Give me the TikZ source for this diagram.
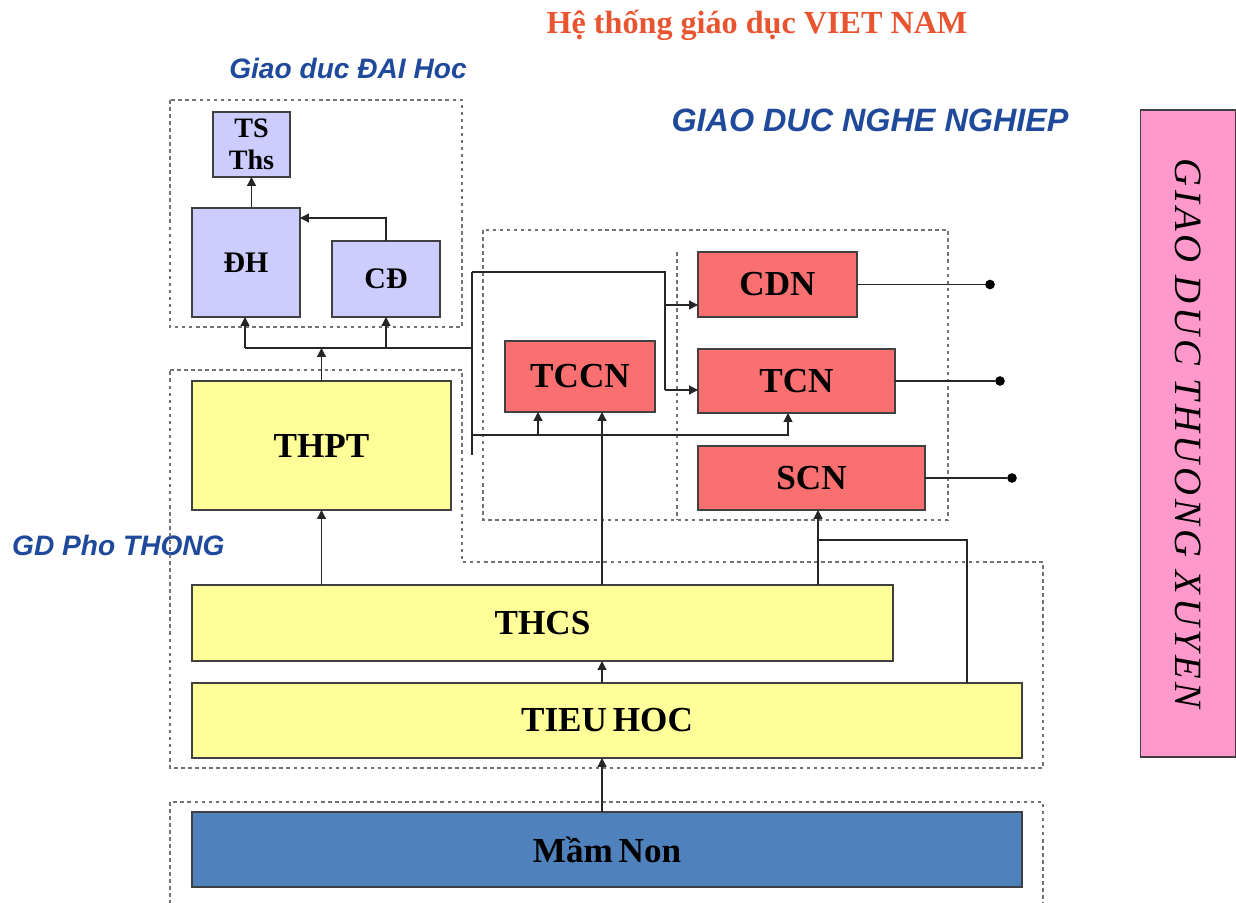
\documentclass[tikz,border=0pt]{standalone}
\usepackage{fontspec}
\setmainfont{Liberation Serif}
\setsansfont{Liberation Sans}
\newfontfamily\wideserif[LetterSpace=10]{Liberation Serif}
\usepackage{tikz}
\usetikzlibrary{arrows.meta}

\definecolor{lavender}{RGB}{204,204,255}
\definecolor{paleyellow}{RGB}{255,255,153}
\definecolor{salmon}{RGB}{250,112,112}
\definecolor{nonblue}{RGB}{79,129,189}
\definecolor{pinkbar}{RGB}{255,153,204}
\definecolor{titlered}{RGB}{232,84,48}
\definecolor{labelblue}{RGB}{31,73,155}

\begin{document}
\begin{tikzpicture}[x=0.02cm,y=-0.02cm,
		box/.style={draw=black!75,line width=0.9pt,inner sep=0pt,outer sep=0pt,
			font=\fontsize{20}{24}\selectfont\bfseries},
		grp/.style={draw=black!55,line width=0.9pt,dash pattern=on 2pt off 2pt},
		arr/.style={draw=black!85,line width=0.7pt,-{Triangle[length=5pt,width=5pt]}},
		wire/.style={draw=black!85,line width=0.7pt},
		dot/.style={circle,fill=black,inner sep=0pt,minimum size=5.5pt},
		lbl/.style={text=labelblue,font=\sffamily\bfseries\itshape}]
			\useasboundingbox (0,0) rectangle (1236,902);
			
			% Titles
			\node[text=titlered,font=\fontsize{18.3}{21}\selectfont\bfseries] (title) at (757,25) {Hệ thống giáo dục VIET NAM};
			\node[lbl,font=\fontsize{16}{19}\selectfont\sffamily\bfseries\itshape] (lbldh) at (348,68) {Giao duc ĐAI Hoc};
			\node[lbl,font=\fontsize{18.4}{21}\selectfont\sffamily\bfseries\itshape] (lblgdnn) at (870,120) {GIAO DUC NGHE NGHIEP};
			\node[lbl,font=\fontsize{16}{19}\selectfont\sffamily\bfseries\itshape,anchor=west] (lblpt) at (6,545) {GD Pho THONG};
			
			% Dashed groups
			\draw[grp] (170,100) rectangle (462,327);
			\draw[grp] (483,230) rectangle (948,520);
			\draw[grp] (677,252) -- (677,520);
			\draw[grp] (170,370) -- (462,370) -- (462,562) -- (1043,562) -- (1043,768) -- (170,768) -- cycle;
			\draw[grp] (170,904) -- (170,802) -- (1043,802) -- (1043,904);
			
			% Dai hoc
			\node[box,fill=lavender,minimum width=1.54cm,minimum height=1.3cm,align=center,
				font=\fontsize{16}{18.5}\selectfont\bfseries] (ts) at (251.5,144.5) {TS\\Ths};
			\node[box,fill=lavender,minimum width=2.16cm,minimum height=2.18cm,
				font=\fontsize{17}{20}\selectfont\bfseries] (dh) at (246,262.5) {ĐH};
			\node[box,fill=lavender,minimum width=2.16cm,minimum height=1.52cm,
				font=\fontsize{17}{20}\selectfont\bfseries] (cd) at (386,279) {CĐ};
			
			% Pho thong
			\node[box,fill=paleyellow,minimum width=5.18cm,minimum height=2.58cm] (thpt) at (321.5,445.5) {THPT};
			\node[box,fill=paleyellow,minimum width=14.02cm,minimum height=1.52cm] (thcs) at (542.5,623) {THCS};
			\node[box,fill=paleyellow,minimum width=16.6cm,minimum height=1.5cm] (tieuhoc) at (607,720.5) {TIEU\,HOC};
			\node[box,fill=nonblue,minimum width=16.6cm,minimum height=1.5cm] (mamnon) at (607,849.5) {Mầm\,Non};
			
			% Nghe nghiep
			\node[box,fill=salmon,minimum width=3cm,minimum height=1.42cm] (tccn) at (580,376.5) {TCCN};
			\node[box,fill=salmon,minimum width=3.18cm,minimum height=1.3cm] (cdn) at (777.5,284.5) {CDN};
			\node[box,fill=salmon,minimum width=3.94cm,minimum height=1.28cm] (tcn) at (796.5,381) {TCN};
			\node[box,fill=salmon,minimum width=4.54cm,minimum height=1.28cm] (scn) at (811.5,478) {SCN};
			
			% Thuong xuyen
			\node[box,fill=pinkbar,rotate=-90,minimum width=12.94cm,minimum height=1.9cm,
				font=\fontsize{22}{25}\wideserif\itshape] (gdtx) at (1188,433.5) {GIAO DUC THUONG XUYEN};
			
			% Helper points
			\coordinate (dhin) at (300,218);
			\coordinate (busL) at (245,348);
			\coordinate (busR) at (472,348);
			\coordinate (spT) at (472,272);
			\coordinate (spB) at (472,455);
			\coordinate (splitT) at (665,272);
			\coordinate (splitB) at (665,390);
			\coordinate (cdnin) at (698,305);
			\coordinate (tcnin) at (698,390);
			\coordinate (lowL) at (472,435);
			\coordinate (tccnin) at (538,412);
			\coordinate (tcnup) at (788,413);
			\coordinate (mid) at (602,0);
			\coordinate (scnin) at (818,510);
			\coordinate (knee) at (967,540);
			
			% Dai hoc links
			\draw[arr] (ts.south |- dh.north) -- (ts.south);
			\draw[arr] (cd.north) |- (dhin);
			\draw[wire] (busL) -- (busR);
			\draw[arr] (busL) -- (busL |- dh.south);
			\draw[arr] (cd.south |- busL) -- (cd.south);
			\draw[arr] (thpt.north) -- (thpt.north |- busL);
			
			% Nghe nghiep links
			\draw[wire] (spT) -- (spB);
			\draw[wire] (spT) -- (splitT) -- (splitB);
			\draw[arr] (splitT |- cdnin) -- (cdnin);
			\draw[arr] (splitB) -- (tcnin);
			\draw[arr] (lowL) -| (tcnup);
			\draw[arr] (tccnin |- lowL) -- (tccnin);
			
			% Vertical links
			\draw[arr] (thcs.north -| thpt.south) -- (thpt.south);
			\draw[arr] (thcs.north -| mid) -- (tccn.south -| mid);
			\draw[arr] (tieuhoc.north -| mid) -- (thcs.south -| mid);
			\draw[arr] (mamnon.north -| mid) -- (tieuhoc.south -| mid);
			\draw[arr] (thcs.north -| scnin) -- (scnin);
			\draw[wire] (tieuhoc.north -| knee) -- (knee) -- (knee -| scnin);
			
			% Outputs
			\foreach \b/\x in {cdn/990,tcn/1000,scn/1012} {
				\node[dot] (\b end) at (\b.east -| \x,0) {};
				\draw[wire] (\b.east) -- (\b end);
			}
		\end{tikzpicture}
\end{document}
